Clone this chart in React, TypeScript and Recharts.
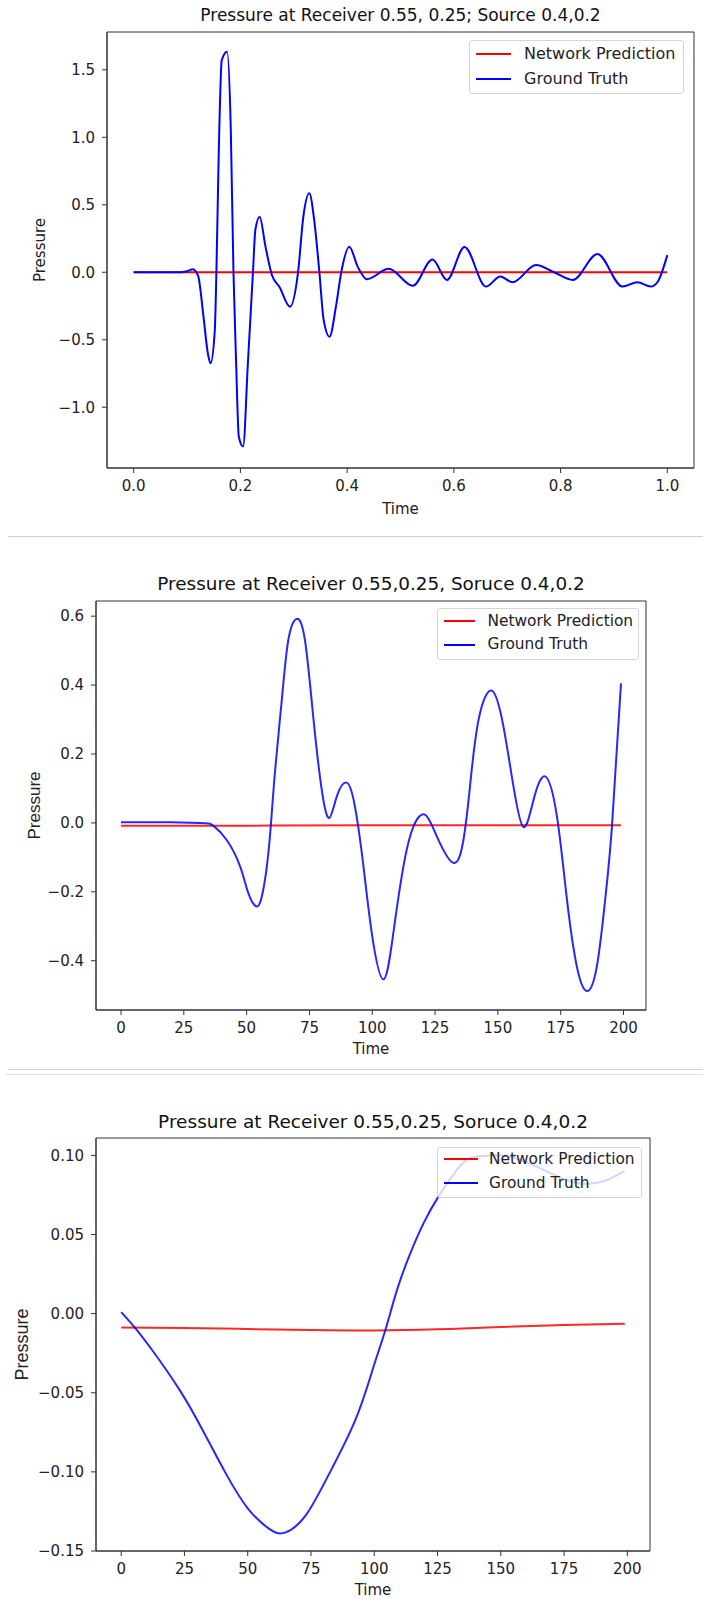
import { LineChart, Line, XAxis, YAxis, ReferenceArea, Legend } from 'recharts';

const W = 703;

// Panel 1: time normalised to [0, 1]
const TIME_1 = [
  0, 0.05, 0.09, 0.1, 0.111, 0.121, 0.13, 0.139, 0.144, 0.152, 0.155, 0.159, 0.165, 0.175, 0.182,
  0.187, 0.192, 0.197, 0.205, 0.214, 0.2235, 0.228, 0.236, 0.247, 0.259, 0.273, 0.293, 0.308,
  0.318, 0.329, 0.339, 0.348, 0.356, 0.367, 0.379, 0.389, 0.404, 0.42, 0.437, 0.478, 0.523,
  0.56, 0.587, 0.62, 0.66, 0.687, 0.71, 0.754, 0.788, 0.823, 0.869, 0.916, 0.944, 0.969, 0.982, 1.0,
];
const TRUTH_1 = [
  0, 0, 0, 0.008, 0.022, -0.03, -0.3, -0.6, -0.674, -0.43, 0, 0.807, 1.57, 1.634, 1.054,
  0, -0.674, -1.218, -1.29, -0.674, 0, 0.313, 0.412, 0.19, -0.02, -0.107, -0.255, 0,
  0.414, 0.585, 0.363, 0, -0.353, -0.477, -0.255, 0, 0.19, 0.04, -0.052, 0.026, -0.1,
  0.094, -0.057, 0.188, -0.106, -0.032, -0.074, 0.054, 0, -0.057, 0.135, -0.106, -0.074, -0.106, -0.07, 0.127,
];
const PRED_TIME_1 = [0, 0.5, 1.0];
const PRED_1 = [0, 0, 0];

// Panel 2: time steps 0..199
const TIME_2 = [
  0, 15, 31.4, 36.7, 42, 47.4, 50.5, 53.8, 56, 57.8, 59.5, 61.3, 64, 66.6, 69.9, 73.2, 76.5, 79.9, 82.9, 85.9,
  89.8, 93.1, 96.5, 99.8, 104.4, 108.4, 112.4, 116.4, 121, 125.7, 132.3, 136.3, 138.9, 142.3, 147.6,
  152.2, 156.2, 160.2, 164.2, 168.8, 173.5, 177.5, 181.4, 185.4, 189.4, 192.7, 195.4, 199,
];
const TRUTH_2 = [
  0.002, 0.002, 0, -0.008, -0.049, -0.126, -0.2, -0.242, -0.215, -0.14, -0.02, 0.15, 0.357, 0.531, 0.592, 0.531, 0.309, 0.096, 0.014, 0.077,
  0.117, 0.048, -0.126, -0.319, -0.454, -0.319, -0.126, -0.01, 0.024, -0.039, -0.116, -0.049, 0.106, 0.299, 0.384,
  0.28, 0.106, -0.012, 0.067, 0.135, 0.019, -0.223, -0.416, -0.488, -0.416, -0.223, -0.01, 0.405,
];
const PRED_TIME_2 = [0, 50, 100, 150, 199];
const PRED_2 = [-0.008, -0.008, -0.007, -0.007, -0.007];

// Panel 3: time steps 0..199
const TIME_3 = [
  0, 5, 12, 23, 32, 41, 50, 58.5, 64.7, 72.7, 81.6, 92.5, 99.7, 104.4, 109, 114.2, 119.5, 125.4,
  132.7, 138, 145, 150.2, 156, 163.5, 170, 176.6, 183.2, 191.1, 197.6, 199,
];
const TRUTH_3 = [
  0.001, -0.008, -0.0225, -0.048, -0.073, -0.1, -0.123, -0.136, -0.1384, -0.128, -0.103, -0.0673, -0.0336, -0.0103, 0.015, 0.038, 0.0572, 0.0741,
  0.091, 0.0984, 0.0998, 0.1, 0.098, 0.0934, 0.0885, 0.084, 0.082, 0.084, 0.089, 0.09,
];
const PRED_TIME_3 = [0, 25, 50, 75, 100, 125, 150, 175, 199];
const PRED_3 = [-0.0088, -0.009, -0.0097, -0.0103, -0.0106, -0.0099, -0.0085, -0.0072, -0.0064];

const X_TICKS_1 = [0, 0.2, 0.4, 0.6, 0.8, 1.0];
const Y_TICKS_1 = [-1.0, -0.5, 0, 0.5, 1.0, 1.5];
const X_TICKS_STEPS = [0, 25, 50, 75, 100, 125, 150, 175, 200];
const Y_TICKS_2 = [-0.4, -0.2, 0, 0.2, 0.4, 0.6];
const Y_TICKS_3 = [-0.15, -0.1, -0.05, 0, 0.05, 0.1];

const SERIES_NAMES = ['Network Prediction', 'Ground Truth'];
const SERIES_COLORS = ['#ff0000', '#0000ff'];

const toPoints = (xs: number[], ys: number[]) => xs.map((t, i) => ({ t, p: ys[i] }));
const fmt = (digits: number) => (v: number) => v.toFixed(digits).replace('-', '\u2212');

const LegendBox = ({ box }: any) => (
  <div style={{
    width: box.w, height: box.h, boxSizing: 'border-box', border: '1px solid #d6d6d6', borderRadius: 3,
    background: 'rgba(255,255,255,0.8)', position: 'relative', fontFamily: 'DejaVu Sans',
    fontSize: box.font, color: '#222',
  }}>
    {SERIES_NAMES.map((name, i) => (
      <div key={name} style={{ position: 'absolute', top: box.rows[i], left: 0, height: 0 }}>
        <div style={{ position: 'absolute', left: box.lineX, width: box.lineW, top: -1, height: 2, background: SERIES_COLORS[i] }} />
        <div style={{ position: 'absolute', left: box.textX, top: -box.font * 0.6, lineHeight: `${box.font * 1.2}px`, whiteSpace: 'nowrap' }}>
          {name}
        </div>
      </div>
    ))}
  </div>
);

const PressurePanel = ({ cfg }: any) => {
  const { top, height, plot, xDomain, yDomain } = cfg;
  const tickStyle = { fontSize: cfg.tickSize, fill: '#222', fontFamily: 'DejaVu Sans' };
  return (
    <div style={{ position: 'absolute', top, left: 0, width: W, height }}>
      <div style={{
        position: 'absolute', top: cfg.titleY - cfg.titleSize * 0.6, left: plot.left, width: plot.right - plot.left,
        textAlign: 'center', fontFamily: 'DejaVu Sans', fontSize: cfg.titleSize, lineHeight: `${cfg.titleSize * 1.2}px`,
        color: '#111', whiteSpace: 'nowrap',
      }}>
        {cfg.title}
      </div>
      <LineChart width={W} height={height} margin={{ top: plot.top, right: W - plot.right, bottom: 0, left: 0 }}>
        <XAxis
          dataKey="t"
          type="number"
          domain={xDomain}
          ticks={cfg.xTicks}
          interval={0}
          allowDataOverflow
          tickFormatter={fmt(cfg.xDigits)}
          height={height - plot.bottom}
          tickSize={5}
          tickMargin={7}
          axisLine={{ stroke: '#333' }}
          tickLine={{ stroke: '#333' }}
          tick={tickStyle}
          label={{ value: 'Time', position: 'insideBottom', offset: cfg.timeOffset, fontSize: 15, fill: '#222', fontFamily: 'DejaVu Sans' }}
        />
        <YAxis
          type="number"
          domain={yDomain}
          ticks={cfg.yTicks}
          interval={0}
          allowDataOverflow
          tickFormatter={fmt(cfg.yDigits)}
          width={plot.left}
          tickSize={5}
          tickMargin={7}
          axisLine={{ stroke: '#333' }}
          tickLine={{ stroke: '#333' }}
          tick={tickStyle}
          label={{
            value: 'Pressure', angle: -90, position: 'insideLeft', offset: cfg.ylabelX,
            style: { textAnchor: 'middle' }, fontSize: cfg.ylabelSize, fill: '#222', fontFamily: cfg.ylabelFont,
          }}
        />
        <ReferenceArea x1={xDomain[0]} x2={xDomain[1]} y1={yDomain[0]} y2={yDomain[1]} fill="none" stroke="#333" strokeWidth={1} ifOverflow="visible" />
        <Legend
          layout="horizontal"
          verticalAlign="middle"
          align="center"
          wrapperStyle={{ left: cfg.legend.x, top: cfg.legend.y, width: cfg.legend.w, height: cfg.legend.h }}
          content={() => <LegendBox box={cfg.legend} />}
        />
        <Line data={cfg.pred} dataKey="p" name={SERIES_NAMES[0]} type={cfg.curve} stroke={SERIES_COLORS[0]} strokeWidth={2} strokeOpacity={cfg.opacity} dot={false} isAnimationActive={false} />
        <Line data={cfg.truth} dataKey="p" name={SERIES_NAMES[1]} type={cfg.curve} stroke={SERIES_COLORS[1]} strokeWidth={2} strokeOpacity={cfg.opacity} dot={false} isAnimationActive={false} />
      </LineChart>
    </div>
  );
};

const PANELS = [
  {
    top: 0, height: 530,
    plot: { left: 107, right: 694, top: 32, bottom: 468 },
    xDomain: [-0.05, 1.05], yDomain: [-1.45, 1.78],
    xTicks: X_TICKS_1, yTicks: Y_TICKS_1, xDigits: 1, yDigits: 1,
    title: 'Pressure at Receiver 0.55, 0.25; Source 0.4,0.2', titleSize: 17, titleY: 15,
    tickSize: 15, timeOffset: 16, ylabelX: 40, ylabelSize: 15, ylabelFont: 'DejaVu Sans',
    legend: { x: 469, y: 40, w: 215, h: 54, rows: [13, 38], lineX: 6, lineW: 35, textX: 54, font: 16 },
    truth: toPoints(TIME_1, TRUTH_1), pred: toPoints(PRED_TIME_1, PRED_1), opacity: 1, curve: 'monotone',
  },
  {
    top: 540, height: 528,
    plot: { left: 96, right: 646, top: 61, bottom: 470 },
    xDomain: [-9.95, 208.95], yDomain: [-0.543, 0.644],
    xTicks: X_TICKS_STEPS, yTicks: Y_TICKS_2, xDigits: 0, yDigits: 1,
    title: 'Pressure at Receiver 0.55,0.25, Soruce 0.4,0.2', titleSize: 18.4, titleY: 44,
    tickSize: 15, timeOffset: 14, ylabelX: 34, ylabelSize: 17, ylabelFont: 'Liberation Sans',
    legend: { x: 437, y: 68, w: 202, h: 52, rows: [12, 35.5], lineX: 6, lineW: 31, textX: 49.5, font: 15.4 },
    truth: toPoints(TIME_2, TRUTH_2), pred: toPoints(PRED_TIME_2, PRED_2), opacity: 0.85, curve: 'natural',
  },
  {
    top: 1078, height: 528,
    plot: { left: 96, right: 650, top: 60, bottom: 473 },
    xDomain: [-9.95, 208.95], yDomain: [-0.15, 0.111],
    xTicks: X_TICKS_STEPS, yTicks: Y_TICKS_3, xDigits: 0, yDigits: 2,
    title: 'Pressure at Receiver 0.55,0.25, Soruce 0.4,0.2', titleSize: 18.5, titleY: 44,
    tickSize: 15, timeOffset: 11, ylabelX: 22, ylabelSize: 18, ylabelFont: 'Liberation Sans',
    legend: { x: 437, y: 69, w: 205, h: 51, rows: [11, 35], lineX: 6, lineW: 34, textX: 51, font: 15.4 },
    truth: toPoints(TIME_3, TRUTH_3), pred: toPoints(PRED_TIME_3, PRED_3), opacity: 0.85, curve: 'natural',
  },
];

const App = () => (
  <div style={{ position: 'absolute', top: 0, left: 0, width: W, height: 1606, background: '#fff', overflow: 'hidden' }}>
    {PANELS.map((cfg, i) => <PressurePanel key={i} cfg={cfg} />)}
    {/* notebook cell separators */}
    <div style={{ position: 'absolute', top: 536, left: 8, right: 0, height: 1, background: '#d0d0d0' }} />
    <div style={{ position: 'absolute', top: 1069, left: 8, right: 0, height: 1, background: '#d6d6d6' }} />
    <div style={{ position: 'absolute', top: 1074, left: 6, right: 0, height: 1, background: '#e2e2e2' }} />
  </div>
);

export default App;
